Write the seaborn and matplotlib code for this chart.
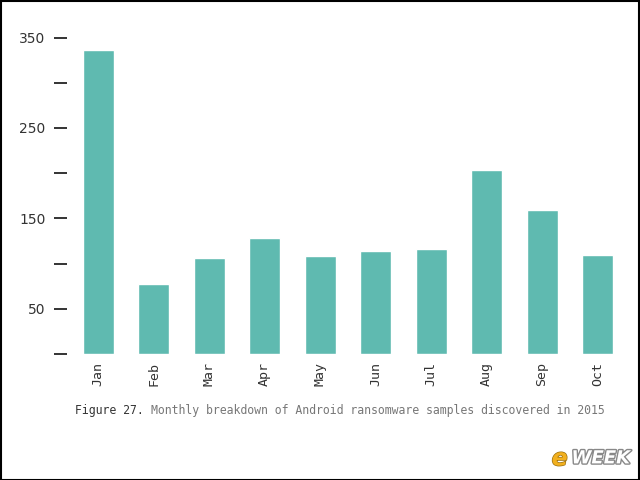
import matplotlib
matplotlib.use("Agg")
import matplotlib.pyplot as plt
import matplotlib.patheffects as pe
import seaborn as sns

months = ['Jan', 'Feb', 'Mar', 'Apr', 'May', 'Jun', 'Jul', 'Aug', 'Sep', 'Oct']
samples = [336, 77, 106, 128, 108, 114, 116, 204, 159, 109]
y_ticks = [0, 50, 100, 150, 200, 250, 300, 350]
y_labels = ['', '50', '', '150', '', '250', '', '350']

sns.set_style("white")
plt.rcParams['font.family'] = ['DejaVu Sans Mono']

fig = plt.figure(figsize=(6.4, 4.8), dpi=100)
ax = fig.add_axes([0.105, 0.2625, 0.872, 0.68])

sns.barplot(x=months, y=samples, color='#5fbab0', saturation=1, width=0.56, ax=ax)

ax.set_xlim(-0.56, 9.5)
ax.set_ylim(0, 361)
ax.set_yticks(y_ticks)
ax.set_yticklabels(y_labels, fontsize=10, color='#333333', family='Liberation Sans Narrow')
ax.tick_params(axis='y', left=True, length=9.5, width=1.4, color='#333333', pad=6)
ax.tick_params(axis='x', bottom=False, length=0, pad=6)
plt.setp(ax.get_xticklabels(), rotation=90, fontsize=9.5, color='#333333')
for s in ax.spines.values():
    s.set_visible(False)

fig.text(0.117, 0.144, 'Figure 27.', fontsize=8.3, color='#333333', va='center')
fig.text(0.236, 0.144, 'Monthly breakdown of Android ransomware samples discovered in 2015',
         fontsize=8.3, color='#777777', va='center')

# watermark
fig.text(0.862, 0.045, 'e', fontsize=17, fontweight='bold', style='italic', color='#f2b01e',
         family='DejaVu Sans', ha='left', va='center',
         path_effects=[pe.withStroke(linewidth=1, foreground='#9a7010')])
fig.text(0.893, 0.045, 'WEEK', fontsize=13, fontweight='bold', style='italic', color='white',
         family='DejaVu Sans', ha='left', va='center',
         path_effects=[pe.withStroke(linewidth=2, foreground='#888888')])

# thin frame
fig.patches.append(plt.Rectangle((0.001, 0.001), 0.997, 0.997, transform=fig.transFigure,
                                 fill=False, edgecolor='black', linewidth=1.5))

fig.savefig('out.png', dpi=100)
